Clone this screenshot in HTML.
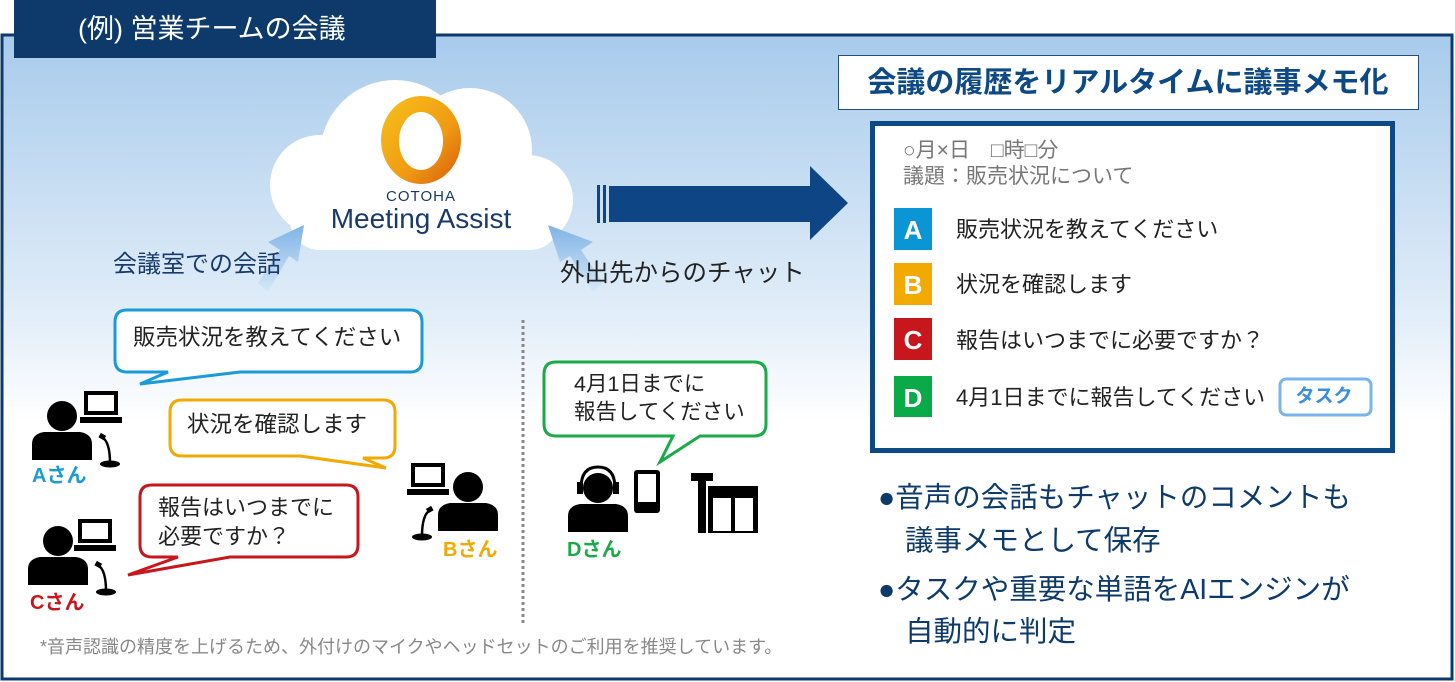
<!DOCTYPE html>
<html><head><meta charset="utf-8"><style>
html,body{margin:0;padding:0;background:#fff;}
svg{display:block;font-family:"Liberation Sans","Noto Sans CJK JP",sans-serif;}
</style></head><body>
<svg width="1455" height="682" viewBox="0 0 1455 682" xmlns="http://www.w3.org/2000/svg">
<defs>
<linearGradient id="bg" x1="0" y1="0" x2="0" y2="1">
<stop offset="0" stop-color="#a8cbec"/><stop offset="0.45" stop-color="#e4eff9"/><stop offset="0.6" stop-color="#ffffff"/></linearGradient>
<linearGradient id="ring" x1="0" y1="0" x2="1" y2="1">
<stop offset="0" stop-color="#f7c21c"/><stop offset="0.6" stop-color="#f09a12"/><stop offset="1" stop-color="#d55a0c"/></linearGradient>
<linearGradient id="la" x1="0" y1="1" x2="0" y2="0">
<stop offset="0" stop-color="#d6e8f8"/><stop offset="1" stop-color="#7fb3e6"/></linearGradient>
<g id="person"><circle cx="0" cy="0" r="15"/><path d="M-30,44 L-30,28 Q-30,18 -18,16 L18,16 Q30,18 30,28 L30,44 Z"/></g>
<g id="laptop"><rect x="4" y="0" width="34" height="24" fill="#000"/><rect x="8" y="4" width="26" height="16" fill="#fff"/><rect x="0" y="26" width="42" height="6" fill="#000"/></g>
<g id="mic"><path d="M0,0 Q8,5 8,26" stroke="#000" stroke-width="2.5" fill="none"/><rect x="-3" y="-3" width="6" height="5" fill="#000" transform="rotate(30)"/><ellipse cx="8" cy="27" rx="10" ry="3.5" fill="#000"/></g>
</defs>
<rect x="2" y="35" width="1450" height="644" fill="url(#bg)" stroke="#0d3a6b" stroke-width="3"/>
<rect x="14" y="0" width="422" height="58" fill="#0d3a6b"/>
<text x="78" y="38" font-size="27" fill="#fff">(例) 営業チームの会議</text>

<!-- cloud -->
<g fill="#fff">
<circle cx="395" cy="155" r="75"/><circle cx="470" cy="150" r="62"/><circle cx="320" cy="185" r="50"/><circle cx="528" cy="200" r="45"/>
<rect x="290" y="180" width="270" height="70" rx="30"/>
</g>
<ellipse cx="421" cy="140" rx="40" ry="44" fill="url(#ring)"/>
<ellipse cx="421" cy="141" rx="22" ry="29" fill="#fff"/>
<text x="421" y="201" font-size="15" fill="#1a3a6a" text-anchor="middle" letter-spacing="1">COTOHA</text>
<text x="421" y="228" font-size="28" fill="#1a3a6a" text-anchor="middle">Meeting Assist</text>

<!-- light arrows -->
<polygon points="258,283 280,250 268,242 304,225 298,262 289,256 268,292" fill="url(#la)"/>
<polygon points="603,283 581,250 593,242 548,225 560,262 570,256 593,292" fill="url(#la)"/>

<text x="113" y="272" font-size="24" fill="#1a3a6a">会議室での会話</text>
<text x="560" y="281" font-size="24.5" fill="#222">外出先からのチャット</text>

<!-- big arrow -->
<rect x="597" y="185" width="3" height="38" fill="#0d4585"/><rect x="603" y="185" width="3" height="38" fill="#0d4585"/>
<polygon points="609,186 810,186 810,166 848,203 810,240 810,222 609,222" fill="#0d4585"/>

<!-- title box -->
<rect x="838.5" y="55.5" width="580" height="54" fill="#fff" stroke="#1f4e7a"/>
<text x="1128" y="92" font-size="29" font-weight="bold" fill="#0d4a85" text-anchor="middle">会議の履歴をリアルタイムに議事メモ化</text>

<!-- memo -->
<rect x="872.5" y="123.5" width="520" height="327" fill="#fff" stroke="#0d4a85" stroke-width="5"/>
<text x="903" y="157" font-size="21" fill="#777">○月×日　□時□分</text>
<text x="903" y="183" font-size="21" fill="#777">議題：販売状況について</text>
<g font-size="22" fill="#222">
<rect x="894" y="208" width="38" height="42" fill="#0a96d4"/><text x="913" y="239" font-weight="bold" font-size="26" fill="#fff" text-anchor="middle">A</text>
<text x="956" y="237">販売状況を教えてください</text>
<rect x="894" y="263" width="38" height="42" fill="#f2a900"/><text x="913" y="294" font-weight="bold" font-size="26" fill="#fff" text-anchor="middle">B</text>
<text x="956" y="292">状況を確認します</text>
<rect x="894" y="318" width="38" height="42" fill="#c8161d"/><text x="913" y="349" font-weight="bold" font-size="26" fill="#fff" text-anchor="middle">C</text>
<text x="956" y="348">報告はいつまでに必要ですか？</text>
<rect x="894" y="376" width="38" height="41" fill="#0aaa48"/><text x="913" y="407" font-weight="bold" font-size="26" fill="#fff" text-anchor="middle">D</text>
<text x="956" y="405">4月1日までに報告してください</text>
</g>
<rect x="1280" y="379" width="91" height="36" rx="6" fill="#fff" stroke="#78b4ee" stroke-width="3"/>
<text x="1324" y="402" font-size="19" font-weight="bold" fill="#3a8fdc" text-anchor="middle">タスク</text>

<g font-size="28.5" fill="#0d3a6b">
<text x="878" y="507">●音声の会話もチャットのコメントも</text>
<text x="905" y="550">議事メモとして保存</text>
<text x="878" y="599">●タスクや重要な単語をAIエンジンが</text>
<text x="905" y="641">自動的に判定</text>
</g>
<text x="40" y="653" font-size="18" fill="#888">*音声認識の精度を上げるため、外付けのマイクやヘッドセットのご利用を推奨しています。</text>

<line x1="523" y1="320" x2="523" y2="625" stroke="#888" stroke-width="3" stroke-dasharray="3,3"/>

<!-- bubbles -->
<path d="M127,310 H410 Q422,310 422,322 V360 Q422,372 410,372 H240 L140,384 L168,372 H127 Q115,372 115,360 V322 Q115,310 127,310 Z" fill="#fff" stroke="#1a9ad6" stroke-width="3"/>
<text x="133" y="345" font-size="22.5" fill="#222">販売状況を教えてください</text>
<path d="M182,400 H383 Q395,400 395,412 V446 Q395,458 383,458 L363,458 L386,468 L300,456 H182 Q170,456 170,444 V412 Q170,400 182,400 Z" fill="#fff" stroke="#f2a900" stroke-width="3"/>
<text x="187" y="432" font-size="22.5" fill="#222">状況を確認します</text>
<path d="M152,485 H346 Q358,485 358,497 V545 Q358,557 346,557 H230 L128,575 L178,557 H152 Q140,557 140,545 V497 Q140,485 152,485 Z" fill="#fff" stroke="#c8161d" stroke-width="3"/>
<text x="158" y="515" font-size="22" fill="#222">報告はいつまでに</text>
<text x="158" y="544" font-size="22" fill="#222">必要ですか？</text>
<path d="M556,362 H754 Q766,362 766,374 V424 Q766,436 754,436 H700 L660,462 L673,436 H556 Q544,436 544,424 V374 Q544,362 556,362 Z" fill="#fff" stroke="#1aaa48" stroke-width="3"/>
<text x="574" y="391" font-size="21.5" fill="#222">4月1日までに</text>
<text x="574" y="419" font-size="21.5" fill="#222">報告してください</text>

<!-- people -->
<use href="#person" x="62" y="416"/>
<use href="#laptop" x="80" y="391"/>
<use href="#mic" x="102" y="437"/>
<text x="32" y="482" font-size="20" font-weight="bold" fill="#1a9ad6">Aさん</text>

<use href="#person" x="468" y="487"/>
<use href="#laptop" x="407" y="463"/>
<use href="#mic" x="430" y="510" transform="translate(860,0) scale(-1,1)"/>
<text x="443" y="556" font-size="20" font-weight="bold" fill="#f2a900">Bさん</text>

<use href="#person" x="58" y="541"/>
<use href="#laptop" x="74" y="519"/>
<use href="#mic" x="98" y="565"/>
<text x="30" y="609" font-size="20" font-weight="bold" fill="#c8161d">Cさん</text>

<use href="#person" x="598" y="488"/>
<path d="M581,488 Q581,467 598,467 Q615,467 615,488" stroke="#000" stroke-width="3" fill="none"/>
<rect x="577" y="482" width="6" height="12" fill="#000"/><rect x="613" y="482" width="6" height="12" fill="#000"/>
<rect x="634" y="470" width="26" height="43" rx="3" fill="#000"/><rect x="638" y="474" width="18" height="28" fill="#fff"/>
<rect x="691" y="473" width="22" height="8" fill="#000"/><rect x="698" y="481" width="8" height="52" fill="#000"/>
<rect x="708" y="486" width="50" height="47" fill="#000"/><rect x="713" y="498" width="18" height="33" fill="#fff"/><rect x="735" y="498" width="18" height="33" fill="#fff"/>
<text x="567" y="556" font-size="20" font-weight="bold" fill="#1aaa48">Dさん</text>
</svg>
</body></html>
